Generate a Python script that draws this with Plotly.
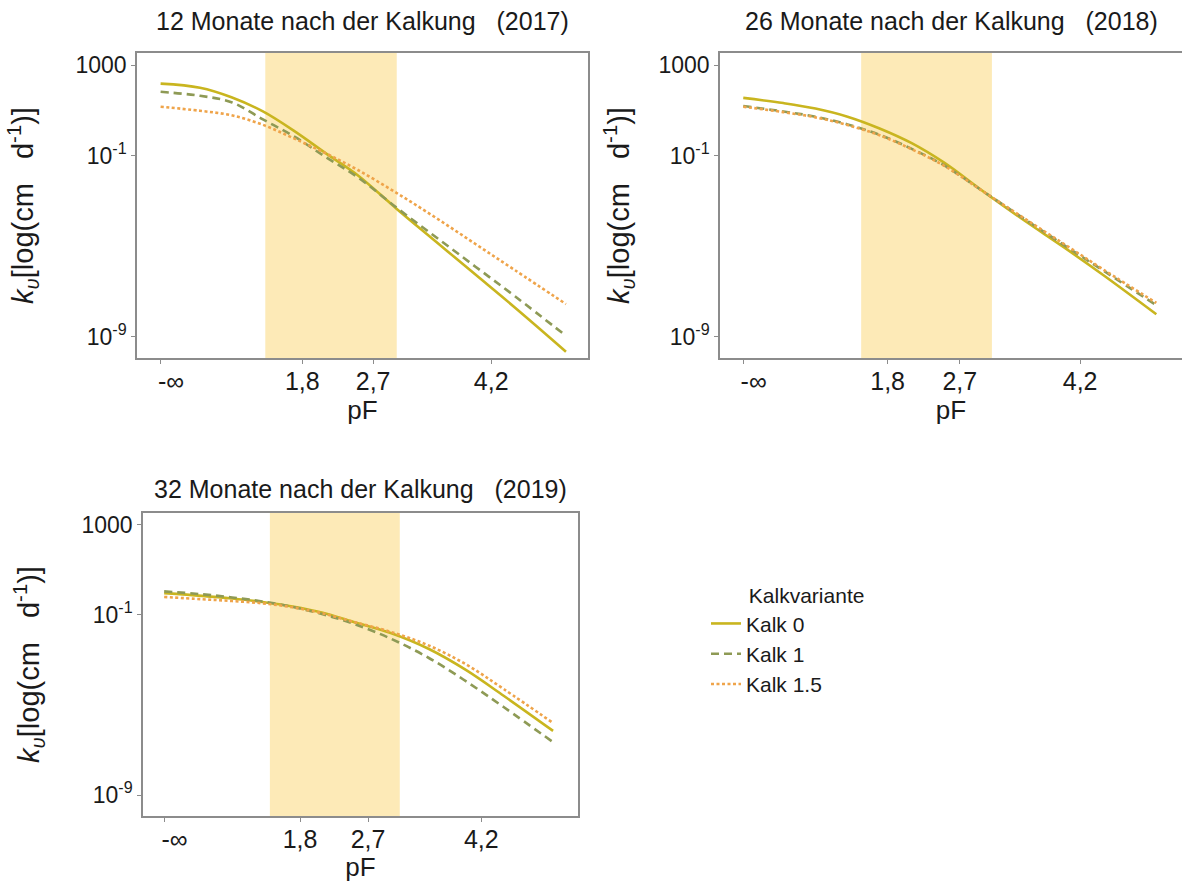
import plotly.graph_objects as go

# pF positions (0 stands for the "-∞" tick)
pf_x = [0, 0.5, 0.9, 1.3, 1.7, 2.1, 2.5, 3.0, 3.5, 4.0, 4.5, 5.15]

# log10 of k_u
k2017_kalk0 = [2.18, 2.0, 1.58, 0.95, 0.08, -0.9, -1.85, -3.35, -4.8, -6.25, -7.7, -9.65]
k2017_kalk1 = [1.82, 1.64, 1.36, 0.6, -0.16, -1.07, -1.94, -3.3, -4.6, -5.9, -7.2, -8.95]
k2017_kalk15 = [1.16, 0.98, 0.78, 0.36, -0.25, -0.9, -1.62, -2.65, -3.75, -4.9, -6.05, -7.55]

k2018_kalk0 = [1.55, 1.32, 1.08, 0.72, 0.2, -0.45, -1.3, -2.6, -3.85, -5.05, -6.3, -8.0]
k2018_kalk1 = [1.19, 0.95, 0.72, 0.38, -0.08, -0.7, -1.42, -2.6, -3.78, -4.95, -6.1, -7.6]
k2018_kalk15 = [1.16, 0.92, 0.69, 0.35, -0.1, -0.72, -1.44, -2.6, -3.76, -4.9, -6.05, -7.5]

k2019_kalk0 = [-0.03, -0.15, -0.27, -0.42, -0.62, -0.9, -1.3, -1.8, -2.5, -3.45, -4.6, -6.15]
k2019_kalk1 = [0.05, -0.08, -0.22, -0.4, -0.64, -0.97, -1.38, -2.05, -2.9, -3.95, -5.1, -6.65]
k2019_kalk15 = [-0.2, -0.3, -0.38, -0.48, -0.66, -0.93, -1.3, -1.75, -2.35, -3.2, -4.3, -5.8]

# shaded pF band of each panel
band_pf = [[1.33, 3.0], [1.47, 3.1], [1.4, 3.12]]

x_tickvals = [0, 1.8, 2.7, 4.2]
x_ticktext = ["\u00a0\u00a0\u00a0-∞", "1,8", "2,7", "4,2"]
y_tickvals = [1000, 0.1, 1e-9]
y_ticktext = ["1000", "10<sup>-1</sup>", "10<sup>-9</sup>"]

panel_titles = ["12 Monate nach der Kalkung\u00a0\u00a0 (2017)",
                "26 Monate nach der Kalkung\u00a0\u00a0 (2018)",
                "32 Monate nach der Kalkung\u00a0\u00a0 (2019)"]
series_names = ["Kalk 0", "Kalk 1", "Kalk 1.5"]
colors = ["#C9B51F", "#8E9A55", "#EFA44A"]
dashes = ["solid", "8px,5px", "3px,2.5px"]

panels = [
    [k2017_kalk0, k2017_kalk1, k2017_kalk15],
    [k2018_kalk0, k2018_kalk1, k2018_kalk15],
    [k2019_kalk0, k2019_kalk1, k2019_kalk15],
]

FONT = "Liberation Sans, Arial, sans-serif"
TXT = "#1a1a1a"
W, H = 1182, 882

fig = go.Figure()
for p, series in enumerate(panels):
    xa = "x" if p == 0 else f"x{p+1}"
    ya = "y" if p == 0 else f"y{p+1}"
    for s, vals in enumerate(series):
        fig.add_trace(go.Scatter(
            x=pf_x, y=[10 ** v for v in vals],
            mode="lines", line=dict(color=colors[s], width=2.6, dash=dashes[s], shape="spline", smoothing=1.0),
            name=series_names[s], legendgroup=series_names[s], showlegend=(p == 0),
            xaxis=xa, yaxis=ya,
        ))

domains_x = [[137 / W, 588 / W], [720 / W, 1.0], [143 / W, 578 / W]]
domains_y = [[1 - 358 / H, 1 - 53 / H], [1 - 358 / H, 1 - 53 / H], [1 - 816 / H, 1 - 513 / H]]
x_ranges = [[-0.3, 5.43], [-0.29, 5.47], [-0.28, 5.48]]
title_shift = [16, 16, 8]
ytitle_standoff = [33, 20, 33]

axis_common = dict(showline=True, linecolor="#8C8C8C", linewidth=1.5, mirror=True,
                   ticks="outside", tickcolor="#8C8C8C", ticklen=4, showgrid=False,
                   zeroline=False, automargin=False)

layout = {}
shapes = []
annotations = []
for p in range(3):
    xk = "xaxis" if p == 0 else f"xaxis{p+1}"
    yk = "yaxis" if p == 0 else f"yaxis{p+1}"
    xa = "x" if p == 0 else f"x{p+1}"
    ya = "y" if p == 0 else f"y{p+1}"
    layout[xk] = dict(axis_common, domain=domains_x[p], range=x_ranges[p], anchor=ya,
                      tickvals=x_tickvals, ticktext=x_ticktext, ticklabelstandoff=-4,
                      tickfont=dict(family=FONT, size=25, color=TXT),
                      title=dict(text="pF", font=dict(family=FONT, size=26, color=TXT), standoff=6))
    layout[yk] = dict(axis_common, domain=domains_y[p], type="log", range=[-9.93, 3.53], anchor=xa,
                      tickvals=y_tickvals, ticktext=y_ticktext,
                      tickfont=dict(family=FONT, size=23, color=TXT),
                      title=dict(text="<i>k<sub>υ</sub></i>[log(cm\u00a0\u00a0 d<sup>-1</sup>)]",
                                 font=dict(family=FONT, size=29, color=TXT), standoff=ytitle_standoff[p]))
    shapes.append(dict(type="rect", xref=xa, yref=f"{ya} domain", x0=band_pf[p][0], x1=band_pf[p][1],
                       y0=0, y1=1, fillcolor="#FDEAB7", line=dict(width=0), layer="below"))
    annotations.append(dict(text=panel_titles[p], xref=f"{xa} domain", x=0.5, yref="paper",
                            y=domains_y[p][1], yshift=title_shift[p], yanchor="bottom", showarrow=False,
                            font=dict(family=FONT, size=25, color=TXT)))

fig.update_layout(
    width=W, height=H, margin=dict(l=0, r=0, t=0, b=0),
    paper_bgcolor="white", plot_bgcolor="white",
    shapes=shapes, annotations=annotations,
    legend=dict(x=706 / W, y=1 - 576 / H, xanchor="left", yanchor="top",
                title=dict(text="\u00a0" * 7 + "Kalkvariante", font=dict(family=FONT, size=21, color=TXT)),
                font=dict(family=FONT, size=21, color=TXT), bgcolor="rgba(0,0,0,0)",
                tracegroupgap=0, itemwidth=30),
    **layout,
)

fig.write_html("out.html")
